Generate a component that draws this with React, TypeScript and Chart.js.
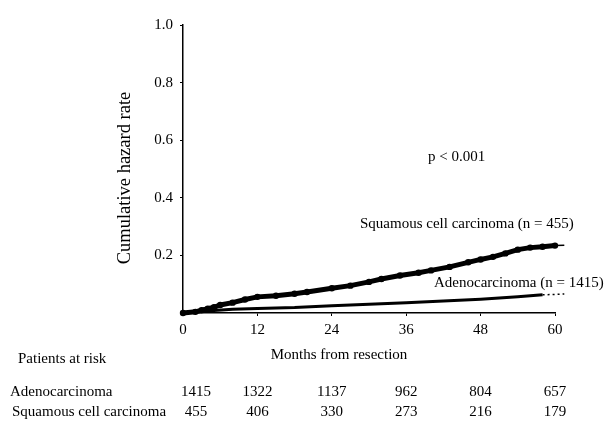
import React, { useEffect, useRef } from "react";
import { Chart, registerables } from "chart.js";

Chart.register(...registerables);

const sqMonths = [0, 2, 3, 4, 5, 6, 8, 10, 12, 15, 18, 20, 24, 27, 30, 32, 35, 38, 40, 43, 46, 48, 50, 52, 54, 56, 58, 60];
const sqHazard = [0, 0.004, 0.01, 0.015, 0.02, 0.028, 0.036, 0.047, 0.056, 0.06, 0.067, 0.073, 0.086, 0.095, 0.108, 0.118, 0.13, 0.14, 0.148, 0.16, 0.176, 0.186, 0.195, 0.207, 0.22, 0.227, 0.23, 0.234];
const sqTailMonths = [60, 61.5];
const sqTailHazard = [0.234, 0.235];

const adMonths = [0, 3, 5, 8, 12, 18, 24, 30, 36, 42, 48, 54, 58];
const adHazard = [0, 0.004, 0.009, 0.013, 0.016, 0.019, 0.025, 0.03, 0.036, 0.042, 0.048, 0.056, 0.063];
const adTailMonths = [58, 61.5];
const adTailHazard = [0.063, 0.066];

const riskMonths = [0, 12, 24, 36, 48, 60];
const adRisk = [1415, 1322, 1137, 962, 804, 657];
const sqRisk = [455, 406, 330, 273, 216, 179];

const FONT = '"Liberation Serif", "Times New Roman", serif';

const pts = (xs: number[], ys: number[]) => xs.map((x, i) => ({ x, y: ys[i] }));

export default function App() {
  const ref = useRef<HTMLCanvasElement>(null);
  useEffect(() => {
    if (!ref.current) return;
    const textPlugin = {
      id: "texts",
      afterDraw(chart: any) {
        const ctx = chart.ctx;
        const xs = chart.scales.x;
        ctx.save();
        ctx.fillStyle = "#000";
        ctx.textBaseline = "middle";
        ctx.font = `15px ${FONT}`;
        ctx.textAlign = "left";
        ctx.fillText("p < 0.001", 428, 157);
        ctx.fillText("Squamous cell carcinoma (n = 455)", 360, 224);
        ctx.fillText("Adenocarcinoma (n = 1415)", 434, 283);
        ctx.fillText("Patients at risk", 18, 359);
        ctx.fillText("Adenocarcinoma", 10, 392);
        ctx.fillText("Squamous cell carcinoma", 12, 412);
        ctx.textAlign = "center";
        ctx.fillText("Months from resection", 339, 355);
        riskMonths.forEach((m, i) => {
          const px = xs.getPixelForValue(m) + (i === 0 ? 13 : 0);
          ctx.fillText(String(adRisk[i]), px, 392);
          ctx.fillText(String(sqRisk[i]), px, 412);
        });
        ctx.translate(125, 178);
        ctx.rotate(-Math.PI / 2);
        ctx.font = `18.5px ${FONT}`;
        ctx.fillText("Cumulative hazard rate", 0, 0);
        ctx.restore();
      },
    };
    const chart = new Chart(ref.current, {
      type: "line",
      data: {
        datasets: [
          {
            label: "Squamous cell carcinoma",
            data: pts(sqMonths, sqHazard),
            borderColor: "#000",
            backgroundColor: "#000",
            borderWidth: 5,
            pointRadius: 3.2,
            pointBorderWidth: 0,
            clip: false as any,
          },
          {
            label: "sq tail",
            data: pts(sqTailMonths, sqTailHazard),
            borderColor: "#000",
            borderWidth: 1.5,
            pointRadius: 0,
            clip: false as any,
          },
          {
            label: "Adenocarcinoma",
            data: pts(adMonths, adHazard),
            borderColor: "#000",
            backgroundColor: "#000",
            borderWidth: 3,
            pointRadius: 0,
            clip: false as any,
          },
          {
            label: "ad tail",
            data: pts(adTailMonths, adTailHazard),
            borderColor: "#000",
            borderWidth: 1.5,
            borderDash: [2, 3],
            pointRadius: 0,
            clip: false as any,
          },
        ],
      },
      options: {
        responsive: false,
        animation: false,
        layout: { padding: { top: 25, right: 53, left: 0, bottom: 0 } },
        plugins: { legend: { display: false }, tooltip: { enabled: false } },
        scales: {
          x: {
            type: "linear",
            min: 0,
            max: 60,
            afterFit: (s: any) => { s.height = 424 - 313; },
            ticks: { stepSize: 12, color: "#000", font: { family: FONT, size: 15 }, padding: 5 },
            grid: { drawOnChartArea: false, drawTicks: true, tickLength: 3, color: "#000" },
            border: { color: "#000", width: 1.5 },
          },
          y: {
            min: 0,
            max: 1,
            afterFit: (s: any) => { s.width = 183; },
            ticks: {
              stepSize: 0.2,
              color: "#000",
              font: { family: FONT, size: 15 },
              padding: 7,
              callback: (v: any) => (Number(v) === 0 ? "" : Number(v).toFixed(1)),
            },
            grid: { drawOnChartArea: false, drawTicks: true, tickLength: 3, color: "#000" },
            border: { color: "#000", width: 1.5 },
          },
        },
      },
      plugins: [textPlugin],
    });
    return () => chart.destroy();
  }, []);
  return (
    <div style={{ position: "absolute", left: 0, top: 0, width: 608, height: 424, background: "#fff" }}>
      <canvas ref={ref} width={608} height={424} />
    </div>
  );
}
